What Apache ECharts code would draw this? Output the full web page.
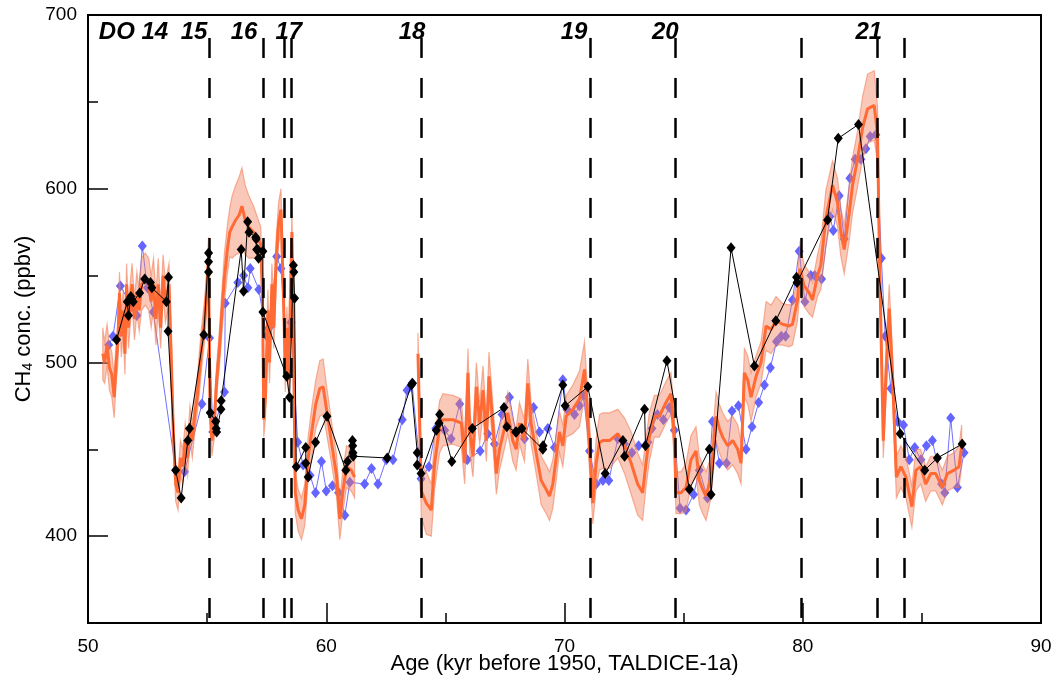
<!DOCTYPE html>
<html><head><meta charset="utf-8">
<script src="https://cdn.jsdelivr.net/npm/echarts@6/dist/echarts.min.js"></script>
<style>html,body{margin:0;padding:0;background:#fff}#c{width:1058px;height:684px}</style>
</head><body><div id="c"></div>
<script>
// ---- data ----
const xTickValues = [50, 60, 70, 80, 90];
const yLabelValues = [400, 500, 600, 700];
const yMinorValues = [450, 550, 650];

const doLabelText = ['DO 14', '15', '16', '17', '18', '19', '20', '21'];
const doLabelAge = [51.91, 54.45, 56.55, 58.43, 63.6, 70.4, 74.23, 82.77];
const doLineAge = [55.08, 57.34, 58.22, 58.52, 63.97, 71.07, 74.63, 79.92, 83.11, 84.24];

// black record [age, CH4]
const blackData = [
[51.20,513],[51.65,535],[51.70,527],[51.80,538],[51.90,535],[52.17,540],[52.38,548],[52.62,546],[52.68,543],
[53.29,535],[53.38,549],[53.36,518],[53.68,438],[53.91,422],[54.19,455],[54.26,462],[54.86,516],
[55.06,563],[55.06,558],[55.06,552],[55.13,471],[55.36,466],[55.38,462],[55.40,460],[55.58,473],[55.59,478],
[56.43,565],[56.53,541],[56.70,581],[56.76,575],[57.04,572],[57.06,571],[57.08,565],[57.12,565],[57.16,560],
[57.34,564],[57.34,529],[58.34,492],[58.46,480],[58.62,556],[58.64,552],[58.67,537],[58.74,440],
[59.14,451],[59.14,442],[59.24,434],[59.55,454],[60.03,469],[60.82,438],[60.89,443],
[61.10,455],[61.11,452],[61.12,448],[61.13,446],[62.56,445],[63.57,487],[63.62,488],[63.82,448],[63.82,441],
[63.98,436],[64.62,461],[64.73,465],[64.76,470],[65.27,443],[66.13,462],[67.46,474],[67.58,463],[67.95,460],
[67.98,460],[68.21,462],[69.09,450],[69.10,452],[69.93,487],[70.03,475],[70.98,486],[71.71,436],[72.45,455],
[72.52,446],[73.36,473],[73.40,452],[74.30,501],[75.24,427],[76.08,450],[76.15,424],[76.99,566],[77.97,498],
[78.87,524],[79.74,549],[79.76,546],[81.04,582],[81.49,629],[82.34,637],[84.09,459],[85.12,438],[85.65,445],[86.69,453]
];

// blue record [age, CH4]
const blueData = [
[50.87,510],[51.05,515],[51.36,544],[51.85,532],[52.05,527],[52.28,567],[52.49,543],[52.74,529],
[53.68,438],[54.05,437],[54.78,476],[55.10,514],[55.24,460],[55.73,483],[55.76,534],[56.29,546],[56.53,550],
[56.71,543],[56.81,554],[57.17,542],[57.50,515],[57.60,520],[57.92,561],[58.10,554],[58.36,502],[58.52,523],
[58.80,454],[59.03,441],[59.32,435],[59.55,425],[59.80,443],[60.00,426],[60.26,429],[60.52,425],[60.78,412],
[60.99,431],[61.61,430],[61.90,439],[62.17,430],[62.52,444],[62.80,444],[63.19,467],[63.39,484],[63.60,488],
[63.98,433],[64.31,440],[64.60,462],[64.97,461],[65.24,456],[65.60,476],[65.92,444],[66.46,449],[66.78,459],
[67.06,453],[67.38,470],[67.69,480],[67.95,460],[68.32,456],[68.70,474],[68.95,460],[69.30,462],[69.58,451],
[69.93,490],[70.10,473],[70.42,470],[70.63,475],[70.80,481],[71.05,449],[71.33,430],[71.61,432],[71.86,432],
[72.24,456],[72.52,453],[72.83,448],[73.11,452],[73.50,454],[73.67,462],[73.90,470],[74.15,467],[74.40,474],
[74.61,461],[74.85,416],[75.10,415],[75.42,424],[75.66,438],[76.00,422],[76.21,466],[76.50,442],[76.80,442],
[77.03,472],[77.30,475],[77.62,450],[77.87,463],[78.15,477],[78.39,487],[78.64,497],[78.90,512],[79.10,515],
[79.28,515],[79.57,536],[79.85,564],[80.09,535],[80.34,550],[80.50,550],[80.79,548],[81.14,584],[81.28,576],
[81.53,596],[81.74,571],[81.98,606],[82.20,617],[82.44,617],[82.65,623],[82.83,630],[83.07,631],[83.30,560],
[83.46,515],[83.70,485],[83.98,466],[84.23,464],[84.47,444],[84.70,451],[84.96,444],[85.19,452],[85.44,455],
[85.83,430],[85.96,425],[86.21,468],[86.49,428],[86.77,448]
];

// orange record [age, CH4, band half-width]; null CH4 = gap
const orangeData = [
[50.62,505,15],[50.70,500,12],[50.80,510,12],[50.90,497,13],[51.00,493,13],[51.10,480,12],[51.18,500,12],[51.25,510,12],
[51.32,540,12],[51.40,515,12],[51.48,530,12],[51.55,505,12],[51.62,545,12],[51.70,520,12],[51.78,535,12],[51.85,545,12],
[51.95,525,12],[52.05,540,12],[52.15,530,12],[52.25,545,15],[52.40,548,15],[52.55,545,15],[52.65,535,15],[52.75,545,15],
[52.85,525,15],[52.95,545,15],[53.05,520,12],[53.15,550,12],[53.25,535,12],[53.40,545,12],[53.50,500,12],[53.58,460,10],
[53.68,430,10],[53.78,425,10],[53.88,445,10],[53.98,440,10],[54.08,455,10],[54.18,445,10],[54.28,465,10],[54.38,455,10],
[54.48,470,10],[54.58,480,10],[54.68,495,12],[54.78,510,12],[54.90,525,12],[55.00,545,12],[55.06,560,12],[55.12,475,9],
[55.20,455,9],[55.30,465,9],[55.40,490,9],[55.50,505,10],[55.60,525,12],[55.72,548,14],[55.85,565,14],[55.95,575,14],
[56.05,578,18],[56.20,582,20],[56.35,585,22],[56.46,590,22],[56.60,582,20],[56.75,578,18],[56.95,575,15],[57.10,572,12],
[57.25,568,10],[57.32,540,10],[57.38,467,10],[57.45,480,12],[57.55,530,12],[57.62,500,12],[57.72,545,12],[57.80,520,12],
[57.90,560,12],[58.00,580,12],[58.10,588,12],[58.20,540,12],[58.28,495,12],[58.35,520,12],[58.42,490,12],[58.50,540,12],
[58.56,575,12],[58.62,520,12],
[58.70,425,12],[58.82,415,12],[58.96,410,12],[59.10,418,12],[59.24,445,12],[59.38,459,14],[59.56,476,14],[59.73,485,16],
[59.87,486,16],[60.00,474,14],[60.21,455,12],[60.43,435,12],[60.57,410,12],[60.70,426,12],[60.85,440,12],[61.05,438,12],
[61.19,434,12],
[62.50,null,0],
[63.85,505,12],[63.99,426,15],[64.20,419,18],[64.41,415,15],[64.55,442,15],[64.76,463,15],[64.90,467,15],[65.32,467,14],
[65.67,465,14],[65.81,442,12],[65.95,494,14],[66.02,460,12],[66.16,446,12],[66.30,486,14],[66.44,465,12],[66.58,484,14],
[66.72,455,12],[66.83,492,14],[66.99,465,12],[67.14,436,12],[67.27,450,12],[67.41,458,12],[67.62,471,12],[67.83,455,12],
[67.97,450,12],[68.11,465,12],[68.32,455,12],[68.46,488,14],[68.60,465,12],[68.81,448,12],[69.02,432,14],[69.23,427,14],
[69.37,423,14],[69.51,430,14],[69.79,460,12],[69.93,452,12],[70.07,469,12],[70.35,473,14],[70.63,479,16],[70.84,496,16],
[70.91,482,14],[71.05,452,14],[71.19,419,12],[71.33,442,14],[71.47,454,16],[71.61,455,16],[71.89,455,16],[72.24,459,14],
[72.52,452,16],[72.80,442,18],[73.07,430,18],[73.28,425,16],[73.42,442,14],[73.56,457,14],[73.77,469,12],[73.98,469,12],
[74.26,477,12],[74.47,482,12],[74.61,457,12],[74.68,425,12],[74.89,425,12],[75.10,428,14],[75.31,444,14],[75.52,449,14],
[75.66,432,14],[75.80,427,14],[75.94,423,14],[76.15,434,12],[76.36,469,14],[76.50,462,14],[76.64,457,14],[76.85,452,14],
[77.06,455,14],[77.27,450,14],[77.41,442,12],[77.55,494,14],[77.69,490,14],[77.83,480,14],[78.04,492,12],[78.25,500,12],
[78.46,521,14],[78.67,519,14],[78.88,524,14],[79.15,522,12],[79.43,521,12],[79.57,522,12],[79.78,536,12],[79.88,554,14],
[80.06,544,12],[80.27,540,12],[80.41,536,10],[80.62,550,12],[80.76,556,14],[80.97,583,16],[81.25,602,14],[81.46,592,14],
[81.60,575,14],[81.74,565,14],[81.95,586,16],[82.09,602,16],[82.30,617,16],[82.51,635,18],[82.72,646,20],[83.00,648,20],
[83.14,631,16],[83.21,569,14],[83.28,521,12],[83.38,455,10],[83.49,492,14],[83.63,531,14],[83.77,492,12],[83.93,434,12],
[84.12,440,12],[84.33,434,12],[84.58,417,12],[84.75,438,12],[84.95,440,10],[85.16,430,10],[85.37,436,10],[85.58,436,10],
[85.86,428,10],[86.07,436,10],[86.35,438,10],[86.56,440,12],[86.67,452,12]
];

// ---- build ----
const FONT = "'Liberation Sans', Arial, sans-serif";
const segments = [];
let cur = [];
orangeData.forEach(p => {
  if (p[1] === null) { if (cur.length) segments.push(cur); cur = []; }
  else cur.push(p);
});
if (cur.length) segments.push(cur);

const orangeLine = orangeData.map(p => [p[0], p[1] === null ? '-' : p[1]]);
const labelData = doLabelAge.map((a, i) => [a, 690, doLabelText[i]]);

const chart = echarts.init(document.getElementById('c'), null, {renderer: 'canvas'});
const yBase = {type: 'value', min: 350, max: 700, position: 'left', splitLine: {show: false}};
chart.setOption({
  animation: false,
  backgroundColor: '#fff',
  grid: {left: 88, right: 17, top: 15, bottom: 61, show: true, borderColor: '#000', borderWidth: 2,
    backgroundColor: 'transparent', containLabel: false, outerBoundsMode: 'none'},
  xAxis: {
    type: 'value', min: 50, max: 90, interval: 10,
    axisLine: {show: true, lineStyle: {color: '#000', width: 2}},
    axisTick: {show: true, inside: true, length: 20, lineStyle: {color: '#000', width: 1.5}},
    minorTick: {show: true, splitNumber: 2, length: 10, lineStyle: {color: '#000', width: 1.5}},
    splitLine: {show: false},
    axisLabel: {color: '#000', fontSize: 19, fontFamily: FONT, margin: 14},
    name: 'Age (kyr before 1950, TALDICE-1a)', nameLocation: 'middle', nameGap: 30, nameMoveOverlap: false,
    nameTextStyle: {color: '#000', fontSize: 22, fontFamily: FONT}
  },
  yAxis: [
    Object.assign({}, yBase, {
      axisLine: {show: true, lineStyle: {color: '#000', width: 2}},
      axisTick: {show: true, inside: true, length: 20, customValues: yLabelValues, lineStyle: {color: '#000', width: 1.5}},
      axisLabel: {color: '#000', fontSize: 19, fontFamily: FONT, margin: 11, customValues: yLabelValues},
      name: '{a|CH}{b|4}{a| conc. (ppbv)}', nameLocation: 'middle', nameGap: 53, nameMoveOverlap: false,
      nameTextStyle: {color: '#000', fontFamily: FONT, rich: {
        a: {fontSize: 22, fontFamily: FONT, color: '#000'},
        b: {fontSize: 14, fontFamily: FONT, color: '#000', padding: [9, 0, 0, 0]}
      }}
    }),
    Object.assign({}, yBase, {
      axisLine: {show: false},
      axisTick: {show: true, inside: true, length: 10, customValues: yMinorValues, lineStyle: {color: '#000', width: 1.5}},
      axisLabel: {show: false}
    })
  ],
  series: [
    {
      name: 'blue', type: 'line', z: 1, data: blueData,
      symbol: 'diamond', symbolSize: [9, 11], showAllSymbol: true,
      itemStyle: {color: '#6464ff'}, lineStyle: {color: '#7070ff', width: 1}
    },
    {
      name: 'band', type: 'custom', z: 2,
      data: segments.map((s, i) => [s[0][0], s[0][1], i]),
      encode: {x: 0, y: 1},
      renderItem: function (params, api) {
        const seg = segments[params.dataIndex];
        const up = seg.map(p => api.coord([p[0], p[1] + p[2]]));
        const lo = seg.slice().reverse().map(p => api.coord([p[0], p[1] - p[2]]));
        return {type: 'polygon', shape: {points: up.concat(lo)},
          style: {fill: 'rgba(243,125,85,0.42)', stroke: 'rgba(240,120,80,0.55)', lineWidth: 1.2}};
      }
    },
    {
      name: 'orange', type: 'line', z: 3, data: orangeLine, symbol: 'none', connectNulls: false,
      lineStyle: {color: '#ff6a35', width: 3}
    },
    {
      name: 'black', type: 'line', z: 4, data: blackData,
      symbol: 'diamond', symbolSize: [9, 11], showAllSymbol: true,
      itemStyle: {color: '#000'}, lineStyle: {color: '#000', width: 1}
    },
    {
      name: 'DO', type: 'scatter', z: 5, data: labelData, symbolSize: 0,
      itemStyle: {opacity: 1},
      label: {show: true, position: 'inside', formatter: p => p.data[2], color: '#000', opacity: 1,
        textBorderWidth: 0, fontSize: 24, fontWeight: 'bold', fontStyle: 'italic', fontFamily: FONT},
      markLine: {
        silent: true, symbol: ['none', 'none'], label: {show: false},
        lineStyle: {color: '#000', width: 2.5, type: [20, 20], opacity: 1},
        data: doLineAge.map(a => [{coord: [a, 686.8]}, {coord: [a, 350]}])
      }
    }
  ]
});
</script></body></html>
